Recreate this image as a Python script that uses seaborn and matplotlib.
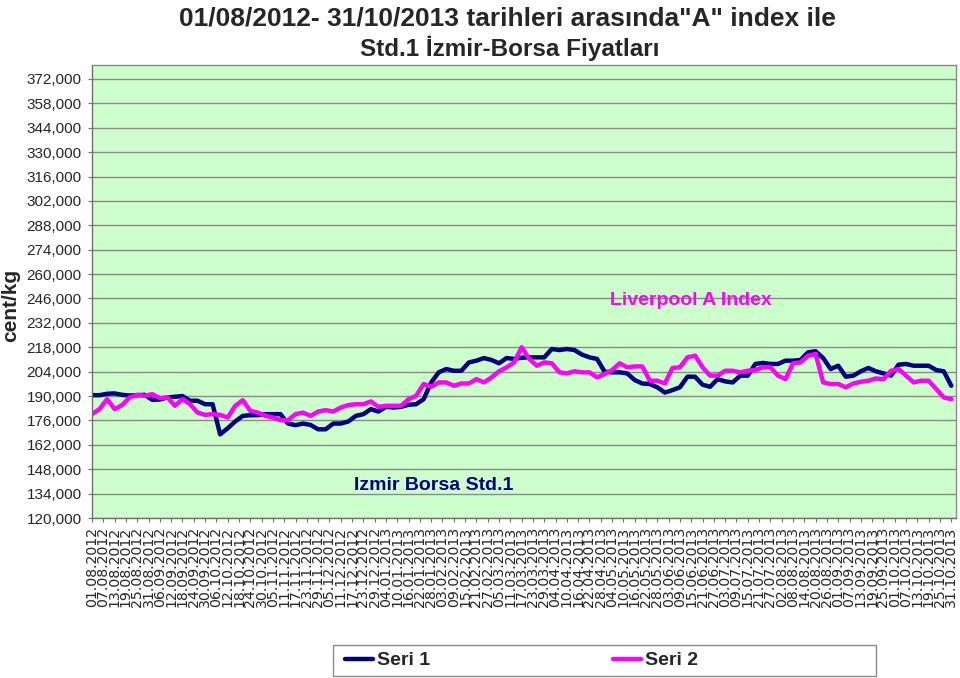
import matplotlib
matplotlib.use("Agg")
import matplotlib.pyplot as plt
from matplotlib.lines import Line2D
from matplotlib.patches import Rectangle
import seaborn as sns
import pandas as pd

# ---------------- data ----------------
title_line1 = '01/08/2012- 31/10/2013 tarihleri arasında"A" index ile'
title_line2 = 'Std.1 İzmir-Borsa Fiyatları'
y_axis_label = "cent/kg"
series_names = ["Seri 1", "Seri 2"]
series_colors = ["#000080", "#FF00FF"]
label_izmir = "Izmir Borsa Std.1"
label_liverpool = "Liverpool A Index"

start_date = "2012-08-01"
sample_freq = "4D"

# values in thousands
seri1 = [190.5, 190.5, 191.3, 191.5, 190.7, 190.3, 190.5, 190.7, 187.8, 188.0,
         189.2, 189.6, 190.0, 187.3, 187.3, 185.3, 185.3, 168.0, 171.5, 175.4,
         178.6, 179.0, 179.0, 179.6, 179.6, 179.6, 174.2, 173.3, 174.2, 173.4,
         170.9, 170.9, 174.2, 174.2, 175.4, 178.6, 179.6, 182.5, 181.1, 183.8,
         183.4, 183.8, 185.0, 185.3, 188.2, 197.8, 203.6, 205.5, 204.5, 204.5,
         209.3, 210.3, 211.8, 210.7, 208.8, 211.8, 211.3, 212.0, 212.2, 212.2,
         212.2, 217.0, 216.4, 217.0, 216.4, 213.8, 212.2, 211.3, 204.0, 203.6,
         203.6, 203.0, 199.2, 197.2, 196.9, 195.0, 192.0, 193.4, 195.0, 201.1,
         201.1, 196.5, 195.3, 199.7, 198.4, 197.8, 201.7, 201.7, 208.4, 209.0,
         208.4, 208.4, 210.3, 210.3, 210.7, 215.1, 215.7, 211.8, 205.5, 207.4,
         201.1, 201.7, 204.2, 206.1, 204.2, 203.0, 201.7, 208.0, 208.4, 207.4,
         207.4, 207.4, 204.9, 204.2, 195.9]
seri2 = [179.6, 182.5, 188.2, 182.5, 184.8, 189.2, 190.7, 190.1, 191.1, 188.8,
         189.2, 184.4, 188.2, 185.3, 180.5, 179.2, 179.6, 179.2, 177.7, 184.4,
         187.6, 181.5, 180.5, 178.6, 177.7, 176.1, 176.1, 179.6, 180.5, 178.6,
         181.1, 181.9, 181.1, 183.4, 184.8, 185.3, 185.3, 186.9, 183.8, 184.4,
         184.4, 184.4, 188.2, 190.1, 196.9, 195.3, 197.8, 197.8, 195.9, 197.2,
         197.2, 199.7, 197.8, 200.7, 204.2, 206.5, 209.3, 218.0, 211.3, 207.4,
         209.3, 208.8, 203.6, 203.0, 204.2, 203.6, 203.6, 200.7, 202.6, 204.9,
         208.8, 206.5, 207.0, 207.0, 198.8, 198.8, 197.2, 206.1, 206.5, 212.2,
         213.2, 206.5, 201.7, 201.7, 204.5, 204.5, 203.6, 204.5, 204.9, 206.5,
         206.5, 201.7, 199.7, 208.8, 209.3, 213.2, 214.1, 197.8, 196.9, 196.9,
         195.0, 197.2, 198.2, 198.8, 200.1, 199.7, 204.5, 205.5, 201.7, 197.8,
         198.8, 198.8, 194.0, 189.2, 188.2]

ytick_values = [120, 134, 148, 162, 176, 190, 204, 218, 232, 246, 260, 274,
                288, 302, 316, 330, 344, 358, 372]
ytick_labels = ["120,000", "134,000", "148,000", "162,000", "176,000", "190,000",
                "204,000", "218,000", "232,000", "246,000", "260,000", "274,000",
                "288,000", "302,000", "316,000", "330,000", "344,000", "358,000",
                "372,000"]

xtick_labels = [
    "01.08.2012", "07.08.2012", "13.08.2012", "19.08.2012", "25.08.2012", "31.08.2012",
    "06.09.2012", "12.09.2012", "18.09.2012", "24.09.2012", "30.09.2012", "06.10.2012",
    "12.10.2012", "18.10.2012", "24.10.2012", "30.10.2012", "05.11.2012", "11.11.2012",
    "17.11.2012", "23.11.2012", "29.11.2012", "05.12.2012", "11.12.2012", "17.12.2012",
    "23.12.2012", "29.12.2012", "04.01.2013", "10.01.2013", "16.01.2013", "22.01.2013",
    "28.01.2013", "03.02.2013", "09.02.2013", "15.02.2013", "21.02.2013", "27.02.2013",
    "05.03.2013", "11.03.2013", "17.03.2013", "23.03.2013", "29.03.2013", "04.04.2013",
    "10.04.2013", "16.04.2013", "22.04.2013", "28.04.2013", "04.05.2013", "10.05.2013",
    "16.05.2013", "22.05.2013", "28.05.2013", "03.06.2013", "09.06.2013", "15.06.2013",
    "21.06.2013", "27.06.2013", "03.07.2013", "09.07.2013", "15.07.2013", "21.07.2013",
    "27.07.2013", "02.08.2013", "08.08.2013", "14.08.2013", "20.08.2013", "26.08.2013",
    "01.09.2013", "07.09.2013", "13.09.2013", "19.09.2013", "25.09.2013", "01.10.2013",
    "07.10.2013", "13.10.2013", "19.10.2013", "25.10.2013", "31.10.2013"]

# ---------------- build ----------------
sns.set_style("white")
plt.rcParams["font.family"] = ["Liberation Sans", "DejaVu Sans"]

dates = pd.date_range(start_date, periods=len(seri1), freq=sample_freq)
df = pd.concat([
    pd.DataFrame({"date": dates, "value": seri1, "series": series_names[0]}),
    pd.DataFrame({"date": dates, "value": seri2, "series": series_names[1]}),
], ignore_index=True)

W, H = 960, 678
fig = plt.figure(figsize=(W / 100, H / 100), dpi=100)
fig.patch.set_facecolor("white")
ax = fig.add_axes([92 / W, 1 - 518 / H, 864 / W, 453 / H])
ax.set_facecolor("#CCFFCC")

sns.lineplot(data=df, x="date", y="value", hue="series",
             palette=dict(zip(series_names, series_colors)),
             hue_order=series_names, linewidth=3.2, estimator=None, sort=False,
             legend=False, ax=ax)
for ln in ax.get_lines():
    ln.set_solid_joinstyle("round")

ax.set_xlim(pd.Timestamp("2012-08-01"), pd.Timestamp("2013-11-02 12:00"))
ax.set_ylim(120, 380)
ax.set_yticks(ytick_values)
ax.set_yticklabels(ytick_labels)
xt = pd.to_datetime(xtick_labels, format="%d.%m.%Y")
ax.set_xticks(xt)
ax.set_xticklabels(xtick_labels, rotation=90, fontfamily="DejaVu Sans", fontsize=10.2)
ax.set_xlabel("")
ax.set_ylabel("")

ax.grid(axis="y", color="#8a8a8a", linewidth=1)
ax.grid(axis="x", visible=False)
ax.set_axisbelow(True)
for s in ax.spines.values():
    s.set_color("#8a8a8a")
    s.set_linewidth(1)
ax.spines["left"].set_color("#707070")
ax.spines["bottom"].set_color("#707070")

ax.tick_params(axis="y", length=3, pad=4.5, labelsize=11, color="#707070", left=True)
ax.tick_params(axis="x", length=3, pad=3.5, color="#707070", bottom=True)

ax.text(0.600, 0.481, label_liverpool, color=series_colors[1], fontsize=14,
        fontweight="bold", transform=ax.transAxes, ha="left", va="center")
ax.text(0.3036, 0.0728, label_izmir, color=series_colors[0], fontsize=14,
        fontweight="bold", transform=ax.transAxes, ha="left", va="center")

fig.text(507 / W, 1 - 25 / H, title_line1, ha="center", va="baseline", fontsize=19,
         fontweight="bold")
fig.text(510 / W, 1 - 56 / H, title_line2, ha="center", va="baseline", fontsize=17.5,
         fontweight="bold")
fig.text(11 / W, 1 - 305 / H, y_axis_label, rotation=90, ha="center", va="center",
         fontsize=15, fontweight="bold")

# legend box
fig.patches.append(Rectangle((333 / W, 1 - 676 / H), 543 / W, 31 / H,
                             transform=fig.transFigure, facecolor="white",
                             edgecolor="#8a8a8a", linewidth=1, zorder=0))
handles = [Line2D([], [], color=c, lw=3.2) for c in series_colors]
leg = fig.legend(handles, series_names, loc="center left",
                 bbox_to_anchor=(345 / W, 1 - 660.5 / H),
                 ncol=2, frameon=False,
                 prop={"weight": "bold", "size": 14},
                 handlelength=1.45, handletextpad=0.2, columnspacing=9.4,
                 borderaxespad=0, borderpad=0)

fig.savefig("out.png", dpi=100)
